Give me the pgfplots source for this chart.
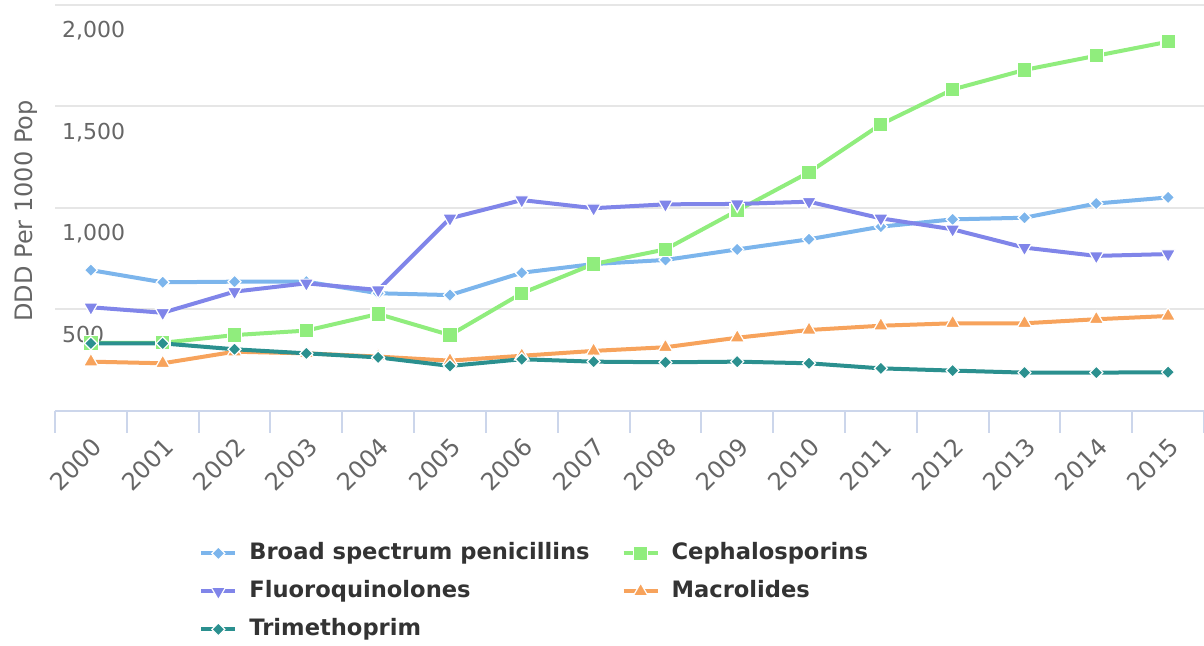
\documentclass[border=0pt]{standalone}
\usepackage{pgfplots}
\pgfplotsset{compat=1.18}
\usepackage{fontspec}
\setmainfont{DejaVu Sans}

\definecolor{cBroad}{HTML}{7CB5EC}
\definecolor{cCeph}{HTML}{90ED7D}
\definecolor{cFluo}{HTML}{8085E9}
\definecolor{cMacro}{HTML}{F7A35C}
\definecolor{cTrim}{HTML}{2B908F}
\definecolor{gridc}{HTML}{E6E6E6}
\definecolor{axisc}{HTML}{CCD6EB}
\definecolor{labc}{HTML}{666666}
\definecolor{legc}{HTML}{333333}

\begin{document}
\begin{tikzpicture}
\useasboundingbox (0,0) rectangle (602pt,323pt);
\begin{axis}[
    at={(27.5pt,117.5pt)}, anchor=south west,
    scale only axis,
    width=574.5pt, height=203pt,
    xmin=-0.5, xmax=15.5,
    ymin=0, ymax=2000,
    axis lines*=left,
    y axis line style={draw=none},
    x axis line style={draw=axisc, line width=1pt},
    tick align=outside,
    major tick length=0pt,
    minor tick length=11pt,
    minor xtick={-0.5,0.5,...,15.5},
    minor tick style={draw=axisc, line width=1pt},
    xtick={0,...,15},
    xticklabels={2000,2001,2002,2003,2004,2005,2006,2007,2008,2009,2010,2011,2012,2013,2014,2015},
    xticklabel style={yshift=-12.5pt, rotate=45, anchor=north east, inner sep=0pt,
        font=\fontsize{12}{14}\selectfont, text=labc},
    ytick={500,1000,1500,2000},
    yticklabel style={anchor=base west, yshift=-16.5pt, font=\fontsize{11}{13}\selectfont, text=labc},
    /pgf/number format/assume math mode=true,
    /pgf/number format/1000 sep={,},
    ymajorgrids=true,
    grid style={draw=gridc, line width=1pt},
    ylabel={DDD Per 1000 Pop},
    ylabel style={at={(axis description cs:0,0.5)}, anchor=base, yshift=11pt, xshift=-1.5pt,
        font=\fontsize{12}{14}\selectfont, text=labc},
    clip=false,
    every axis plot/.append style={line width=2pt},
    legend columns=2,
    legend cell align=left,
    legend image code/.code={\draw[mark repeat=2,mark phase=2,#1] plot coordinates {(0pt,0pt)(8.5pt,0pt)(17pt,0pt)};},
    legend style={at={(axis description cs:0.1253,-0.3202)}, anchor=north west,
        draw=none, fill=none, inner xsep=0pt, inner ysep=0pt,
        font=\bfseries\fontsize{11.3}{13}\selectfont, text=legc,
        nodes={inner sep=0pt, text height=9pt, text depth=3pt},
        row sep=7pt, column sep=6pt,
        /tikz/every even column/.append style={column sep=16pt}},
]
\addplot[color=cBroad, mark=square*, mark size=2.3pt,
    mark options={solid, rotate=45, fill=cBroad, draw=white, line width=0.6pt}]
coordinates {(0,694)(1,634)(2,637)(3,637)(4,580)(5,571)(6,681)(7,724)(8,744)(9,796)(10,846)(11,908)(12,944)(13,952)(14,1022)(15,1052)};
\addlegendentry{Broad spectrum penicillins}
\addplot[color=cCeph, mark=square*, mark size=3.6pt,
    mark options={solid, fill=cCeph, draw=white, line width=0.6pt}]
coordinates {(0,335)(1,336)(2,374)(3,396)(4,478)(5,374)(6,580)(7,724)(8,796)(9,987)(10,1176)(11,1412)(12,1584)(13,1680)(14,1750)(15,1819)};
\addlegendentry{Cephalosporins}
\addplot[color=cFluo, mark=triangle*, mark size=4.2pt,
    mark options={solid, rotate=180, fill=cFluo, draw=white, line width=0.6pt}]
coordinates {(0,511)(1,484)(2,588)(3,629)(4,596)(5,949)(6,1039)(7,999)(8,1018)(9,1020)(10,1031)(11,949)(12,895)(13,805)(14,764)(15,773)};
\addlegendentry{Fluoroquinolones}
\addplot[color=cMacro, mark=triangle*, mark size=4.2pt,
    mark options={solid, fill=cMacro, draw=white, line width=0.6pt}]
coordinates {(0,243)(1,235)(2,292)(3,284)(4,268)(5,248)(6,272)(7,296)(8,314)(9,361)(10,399)(11,420)(12,432)(13,432)(14,452)(15,468)};
\addlegendentry{Macrolides}
\addplot[color=cTrim, mark=square*, mark size=2.3pt,
    mark options={solid, rotate=45, fill=cTrim, draw=white, line width=0.6pt}]
coordinates {(0,333)(1,333)(2,304)(3,284)(4,264)(5,222)(6,255)(7,243)(8,240)(9,243)(10,235)(11,210)(12,199)(13,189)(14,189)(15,191)};
\addlegendentry{Trimethoprim}
\end{axis}
\end{tikzpicture}
\end{document}
